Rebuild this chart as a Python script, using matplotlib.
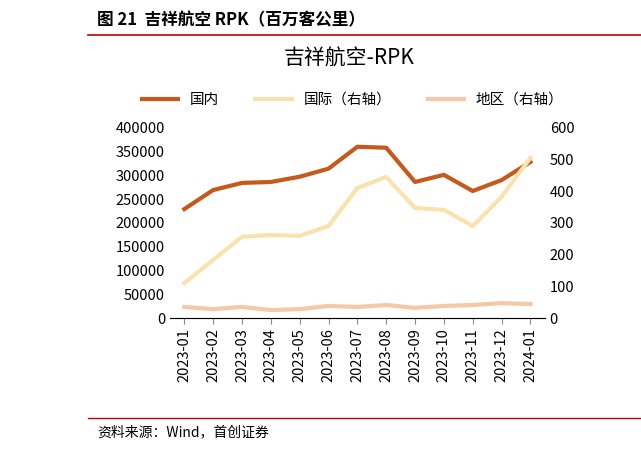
import matplotlib
matplotlib.use("Agg")
import matplotlib.pyplot as plt

plt.rcParams["font.family"] = ["Noto Sans CJK SC", "DejaVu Sans"]

months = ["2023-01","2023-02","2023-03","2023-04","2023-05","2023-06","2023-07",
          "2023-08","2023-09","2023-10","2023-11","2023-12","2024-01"]
domestic = [229000,269000,284000,286000,297000,314000,360000,358000,286000,301000,267000,290000,328000]
international = [110,183,256,262,259,290,410,445,347,341,290,382,505]
regional = [35,28,35,25,28,38,35,41,32,38,41,47,44]

fig = plt.figure(figsize=(6.41,4.53), dpi=100)
fig.text(0.152, 0.955, "图 21  吉祥航空 RPK（百万客公里）", fontsize=12, weight="bold", va="center")
fig.add_artist(plt.Line2D([0.137,1.0],[0.922,0.922], color="#C00000", lw=1.2))
fig.add_artist(plt.Line2D([0.137,1.0],[0.077,0.077], color="#C00000", lw=1.0))
fig.text(0.152, 0.045, "资料来源：Wind，首创证券", fontsize=10, style="italic", va="center")

ax = fig.add_axes([0.265, 0.298, 0.585, 0.42])
ax2 = ax.twinx()
x = range(len(months))
l1, = ax.plot(x, domestic, color="#C55A1C", lw=3, label="国内")
l2, = ax2.plot(x, international, color="#FAE2AE", lw=3, label="国际（右轴）")
l3, = ax2.plot(x, regional, color="#F7C8A8", lw=3, label="地区（右轴）")
ax.set_ylim(0,400000); ax.set_yticks(range(0,400001,50000))
ax2.set_ylim(0,600); ax2.set_yticks(range(0,601,100))
ax.set_xlim(-0.5, len(months)-0.5)
ax.set_xticks(list(x)); ax.set_xticklabels(months, rotation=90, fontsize=10)
for a in (ax, ax2):
    a.spines["top"].set_visible(False)
    a.tick_params(labelsize=10.5, length=0)
ax.spines["right"].set_visible(False); ax2.spines["left"].set_visible(False)
ax2.spines["right"].set_visible(False); ax.spines["left"].set_visible(False)
ax.spines["bottom"].set_color("#888888")
ax.tick_params(axis="x", length=4, color="#888888")
fig.text(0.545, 0.87, "吉祥航空-RPK", fontsize=15, ha="center", va="center")
fig.legend(handles=[l1,l2,l3], loc="center", bbox_to_anchor=(0.55,0.78), ncol=3,
           frameon=False, fontsize=10.5, handlelength=2.5, columnspacing=2.5)
fig.savefig("out.png", dpi=100)
